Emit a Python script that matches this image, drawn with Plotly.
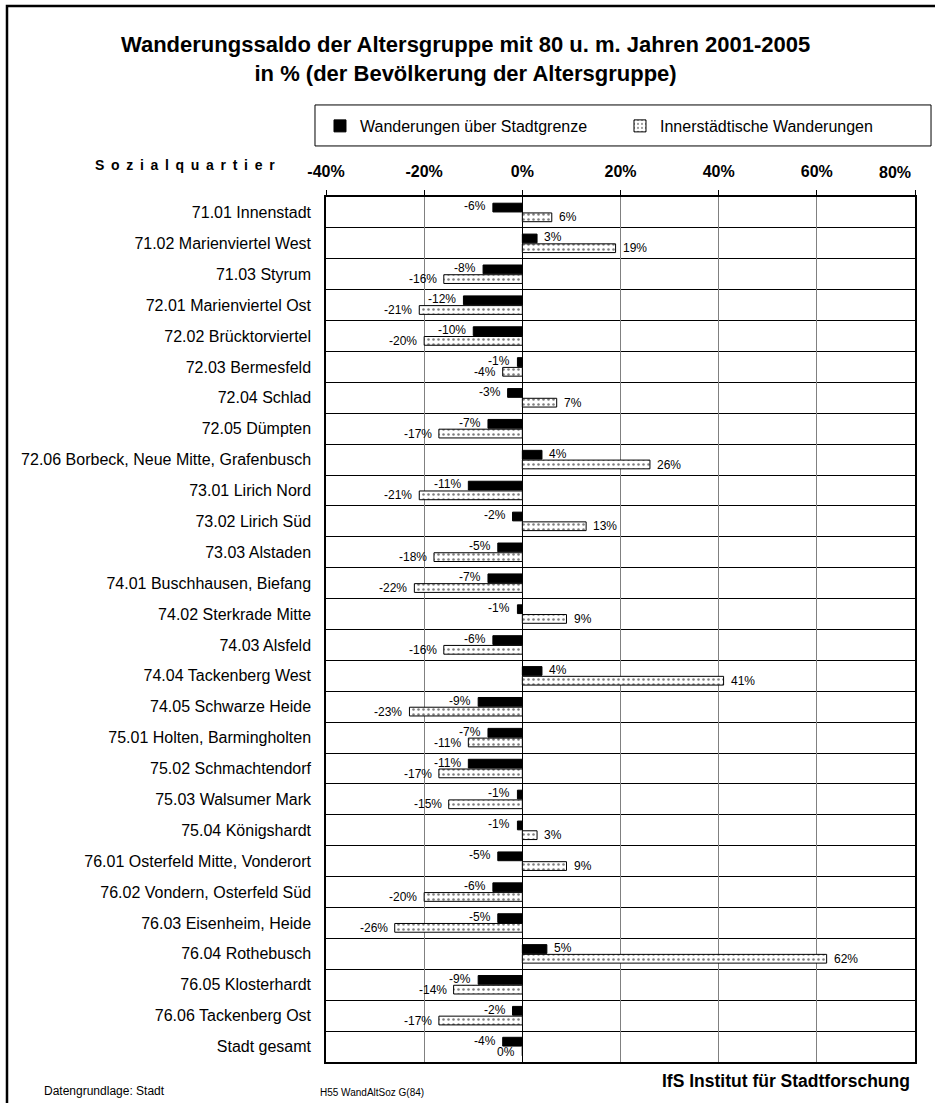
import plotly.graph_objects as go

# Sozialquartiere (top to bottom)
quartiere = [
    "71.01 Innenstadt",
    "71.02 Marienviertel West",
    "71.03 Styrum",
    "72.01 Marienviertel Ost",
    "72.02 Brücktorviertel",
    "72.03 Bermesfeld",
    "72.04 Schlad",
    "72.05 Dümpten",
    "72.06 Borbeck, Neue Mitte, Grafenbusch",
    "73.01 Lirich Nord",
    "73.02 Lirich Süd",
    "73.03 Alstaden",
    "74.01 Buschhausen, Biefang",
    "74.02 Sterkrade Mitte",
    "74.03 Alsfeld",
    "74.04 Tackenberg West",
    "74.05 Schwarze Heide",
    "75.01 Holten, Barmingholten",
    "75.02 Schmachtendorf",
    "75.03 Walsumer Mark",
    "75.04 Königshardt",
    "76.01 Osterfeld Mitte, Vonderort",
    "76.02 Vondern, Osterfeld Süd",
    "76.03 Eisenheim, Heide",
    "76.04 Rothebusch",
    "76.05 Klosterhardt",
    "76.06 Tackenberg Ost",
    "Stadt gesamt",
]

# Wanderungssaldo in % der Bevölkerung der Altersgruppe
ueber_stadtgrenze = [-6, 3, -8, -12, -10, -1, -3, -7, 4, -11, -2, -5, -7, -1,
                     -6, 4, -9, -7, -11, -1, -1, -5, -6, -5, 5, -9, -2, -4]
innerstaedtisch = [6, 19, -16, -21, -20, -4, 7, -17, 26, -21, 13, -18, -22, 9,
                   -16, 41, -23, -11, -17, -15, 3, 9, -20, -26, 62, -14, -17, 0]

tick_values = [-40, -20, 0, 20, 40, 60, 80]
tick_labels = ["-40%", "-20%", "0%", "20%", "40%", "60%", "80%"]

FONT = "Liberation Sans, Arial, sans-serif"
TICK_FONT = dict(family=FONT, size=16, color="black", weight="bold")
positions = list(range(len(quartiere)))

# the last tick label is set right-aligned at its tick so it stays inside the frame
tick_text = tick_labels[:-1] + [""]

fig = go.Figure()
fig.add_trace(go.Bar(
    name="Wanderungen über Stadtgrenze",
    orientation="h",
    x=ueber_stadtgrenze,
    y=positions,
    marker=dict(color="black", line=dict(color="black", width=1)),
))
fig.add_trace(go.Bar(
    name="Innerstädtische Wanderungen",
    orientation="h",
    x=innerstaedtisch,
    y=positions,
    marker=dict(
        color="white",
        line=dict(color="black", width=1),
        pattern=dict(shape=".", fgcolor="black", bgcolor="white", size=5, solidity=0.2),
    ),
))

# value labels at the outer end of each bar
annotations = []
for series, shift in ((ueber_stadtgrenze, 6), (innerstaedtisch, -5)):
    for pos, val in zip(positions, series):
        annotations.append(dict(
            x=val, y=pos, xref="x", yref="y",
            text=f"{val}%",
            showarrow=False,
            xanchor="left" if val > 0 else "right",
            xshift=5 if val > 0 else -5,
            yshift=shift,
            font=dict(family=FONT, size=12, color="black"),
        ))

annotations.append(dict(
    x=tick_values[-1], y=1.0285, xref="x", yref="paper",
    xanchor="right", yanchor="middle", xshift=-2,
    text=tick_labels[-1], showarrow=False, font=TICK_FONT,
))

# title, column header and footer texts
annotations += [
    dict(x=0.2365, y=1.1595, xref="paper", yref="paper", xanchor="center", yanchor="middle",
         text="Wanderungssaldo der Altersgruppe mit 80 u. m. Jahren 2001-2005<br>"
              "in % (der Bevölkerung der Altersgruppe)",
         showarrow=False, font=dict(family=FONT, size=22, color="black", weight="bold")),
    dict(x=-0.3956, y=1.037, xref="paper", yref="paper", xanchor="left", yanchor="middle",
         text=" \u2009".join("Sozialquartier"),
         showarrow=False, font=dict(family=FONT, size=14, color="black", weight="bold")),
    dict(x=-0.4822, y=-0.0335, xref="paper", yref="paper", xanchor="left", yanchor="middle",
         text="Datengrundlage: Stadt", showarrow=False,
         font=dict(family=FONT, size=12, color="black")),
    dict(x=-0.0136, y=-0.0347, xref="paper", yref="paper", xanchor="left", yanchor="middle",
         text="H55 WandAltSoz G(84)", showarrow=False,
         font=dict(family=FONT, size=10, color="black")),
    dict(x=0.9949, y=-0.022, xref="paper", yref="paper", xanchor="right", yanchor="middle",
         text="IfS Institut für Stadtforschung", showarrow=False,
         font=dict(family=FONT, size=17.5, color="black", weight="bold")),
]

shapes = [
    # outer frame
    dict(type="rect", xref="paper", yref="paper", x0=-0.5416, x1=1.06, y0=-0.06, y1=1.2208,
         line=dict(color="black", width=2.5), fillcolor="rgba(0,0,0,0)", layer="above"),
    # legend frame
    dict(type="rect", xref="paper", yref="paper", x0=-0.0187, x1=1.0272, y0=1.059, y1=1.1064,
         line=dict(color="black", width=1), fillcolor="rgba(0,0,0,0)"),
]

fig.update_layout(
    width=935, height=1103, autosize=False,
    margin=dict(l=326, r=20, t=197, b=41, autoexpand=False),
    paper_bgcolor="white", plot_bgcolor="white",
    barmode="group", bargap=0.37, bargroupgap=0.1,
    font=dict(family=FONT, color="black"),
    showlegend=True,
    legend=dict(
        orientation="h", x=-0.0102, y=1.0821, xanchor="left", yanchor="middle",
        font=dict(family=FONT, size=16, color="black"),
        entrywidth=255, entrywidthmode="pixels",
        bgcolor="rgba(0,0,0,0)", borderwidth=0, itemwidth=30,
        traceorder="normal",
    ),
    annotations=annotations,
    shapes=shapes,
    xaxis=dict(
        range=[-40, 80], side="top",
        tickvals=tick_values, ticktext=tick_text,
        tickfont=TICK_FONT,
        ticks="outside", ticklen=5, tickcolor="black", tickwidth=1,
        ticklabelstandoff=7,
        showgrid=True, gridcolor="#808080", gridwidth=1,
        zeroline=True, zerolinecolor="black", zerolinewidth=1,
        showline=True, linecolor="black", linewidth=1.5, mirror=True,
        fixedrange=True,
    ),
    yaxis=dict(
        range=[len(quartiere) - 0.5, -0.5],
        tickvals=positions, ticktext=quartiere,
        tickfont=dict(family=FONT, size=16, color="black"),
        ticks="", ticklabelstandoff=10,
        showgrid=False, zeroline=False,
        minor=dict(tickvals=[p + 0.5 for p in positions[:-1]], showgrid=True,
                   gridcolor="black", gridwidth=1, ticks=""),
        showline=True, linecolor="black", linewidth=1.5, mirror=True,
        fixedrange=True,
    ),
)

fig.write_html("out.html")
